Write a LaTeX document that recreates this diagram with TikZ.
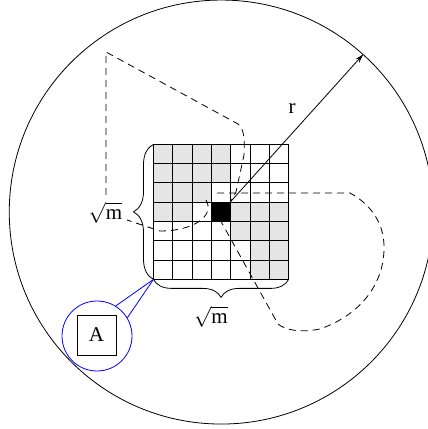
\documentclass[tikz,border=0pt]{standalone}
\usepackage{fontspec}
\setmainfont{Liberation Serif}
\usetikzlibrary{calc,decorations.pathreplacing,arrows.meta}
\begin{document}
\begin{tikzpicture}[x=1pt,y=1pt,
  thinline/.style={line width=0.8pt},
  gridline/.style={line width=0.9pt},
  walk/.style={line width=0.8pt,dash pattern=on 7pt off 5pt},
  lbl/.style={font=\fontsize{21}{25}\selectfont,inner sep=0pt},
  cellgray/.style={fill=black!10},
  bracestyle/.style={decorate,line width=0.8pt}]
\useasboundingbox (0,0) rectangle (428,429);
\def\gx{153.5}\def\gy{284.7}\def\cs{19.3}
% shaded cells
\foreach \c/\r in {0/0,1/0,2/0,3/0,0/1,1/1,2/1,3/1,0/2,1/2,2/2,0/3,1/3,4/3,5/3,6/3,4/4,5/4,6/4,5/5,6/5,5/6,6/6}
  \fill[cellgray] ({\gx+\c*\cs},{\gy-\r*\cs}) rectangle ++(\cs,-\cs);
% grid lines
\foreach \i in {0,...,7} {
  \draw[gridline] ({\gx+\i*\cs},\gy) -- ({\gx+\i*\cs},{\gy-7*\cs});
  \draw[gridline] (\gx,{\gy-\i*\cs}) -- ({\gx+7*\cs},{\gy-\i*\cs});
}
\coordinate (gridTL) at (\gx,\gy);
\coordinate (gridBL) at (\gx,{\gy-7*\cs});
\coordinate (gridBR) at ({\gx+7*\cs},{\gy-7*\cs});
% black cell
\node[fill=black, minimum size=19.3pt, inner sep=0pt, anchor=north west] (blk) at ({\gx+3*\cs},{\gy-3*\cs}) {};
% big circle
\node[draw, circle, minimum size=424pt, inner sep=0pt, thinline] (big) at (blk.center) {};
% radius arrow
\draw[thinline, -{Stealth[length=9pt,width=5pt]}] (blk.center) -- (big.48.5);
\node[lbl] (r) at (292,320) {r};
% braces
\draw[bracestyle, decoration={brace,amplitude=20pt}] (gridBL) -- (gridTL);
\draw[bracestyle, decoration={brace,amplitude=18pt}] (gridBR) -- (gridBL);
\node[lbl] (lm) at (105.5,216) {\(\sqrt{\mbox{m}}\)};
\node[lbl] (bm) at (211,112) {\(\sqrt{\mbox{m}}\)};
% dashed walks
\draw[walk] (106,234) -- (106,377) -- (238,305) .. controls (244,301) and (245,289) .. (244,274) -- (236,237) -- (231,228);
\draw[walk] (217,236) -- (350,236) .. controls (372,224) and (385,204) .. (384,179) .. controls (383,144) and (360,114) .. (320,100) .. controls (300,96) and (285,99) .. (278,105) -- (blk.south);
\draw[walk] (206,229) .. controls (215,214) and (195,198) .. (160,198) -- (127,209);
% magnifier
\node[draw=blue, circle, minimum size=70pt, inner sep=0pt, thinline] (mag) at (97,93) {};
\node[draw, thinline, minimum width=39pt, minimum height=40pt, lbl] (A) at (96.5,94) {A};
\draw[blue, thinline] (gridBL) -- (mag.58);
\draw[blue, thinline] (gridBL) -- (mag.31);
\end{tikzpicture}
\end{document}
